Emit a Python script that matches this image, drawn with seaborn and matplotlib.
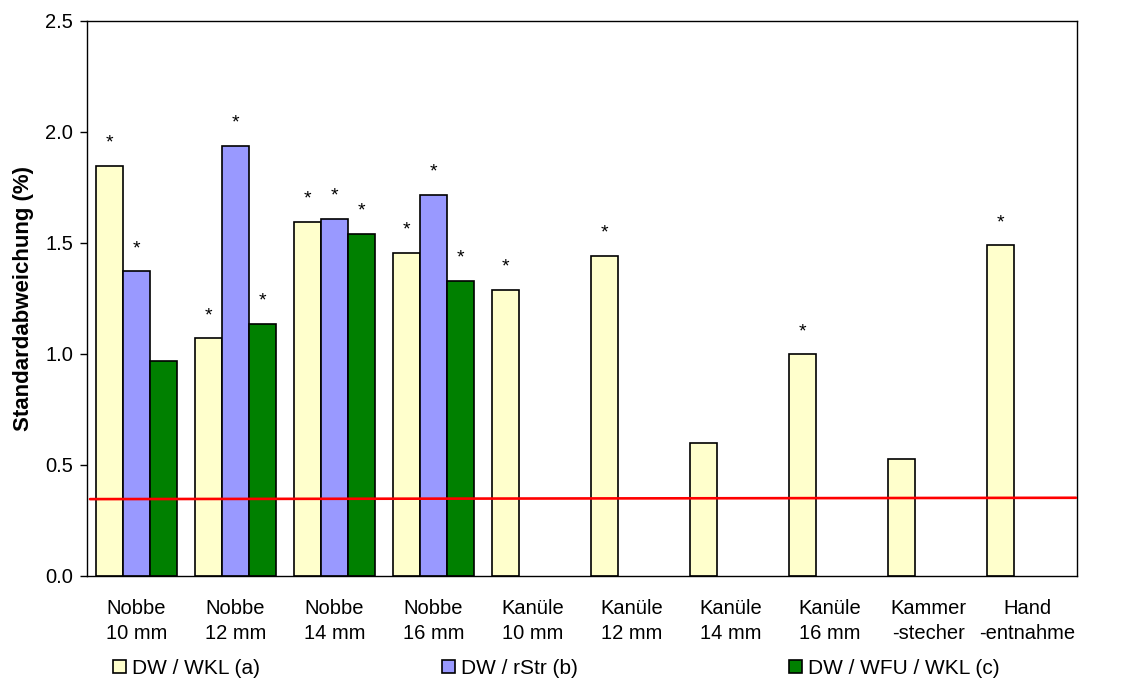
import numpy as np
import pandas as pd
import matplotlib
matplotlib.use("Agg")
import matplotlib.pyplot as plt
import seaborn as sns

# Sampling methods (x categories) and their tick labels
categories = ["Nobbe 10", "Nobbe 12", "Nobbe 14", "Nobbe 16",
              "Kanüle 10", "Kanüle 12", "Kanüle 14", "Kanüle 16",
              "Kammerstecher", "Handentnahme"]
tick_labels = ["Nobbe\n10 mm", "Nobbe\n12 mm", "Nobbe\n14 mm", "Nobbe\n16 mm",
               "Kanüle\n10 mm", "Kanüle\n12 mm", "Kanüle\n14 mm", "Kanüle\n16 mm",
               "Kammer\n-stecher", "Hand\n-entnahme"]

series_names = ["DW / WKL (a)", "DW / rStr (b)", "DW / WFU / WKL (c)"]

# Standard deviation (%) per method; None = not measured
values_a = [1.847, 1.069, 1.595, 1.454, 1.288, 1.441, 0.596, 0.997, 0.524, 1.488]
values_b = [1.372, 1.936, 1.607, 1.716, None, None, None, None, None, None]
values_c = [0.966, 1.134, 1.541, 1.329, None, None, None, None, None, None]

# Significance markers (True = "*")
sig_a = [True, True, True, True, True, True, False, True, False, True]
sig_b = [True, True, True, True, None, None, None, None, None, None]
sig_c = [False, True, True, True, None, None, None, None, None, None]

# Reference line (start / end level)
ref_x = [-0.47, 9.49]
ref_y = [0.345, 0.351]

colors = ["#FFFFCC", "#9999FF", "#008000"]

rows = []
for name, vals in zip(series_names, [values_a, values_b, values_c]):
    for cat, v in zip(categories, vals):
        if v is not None:
            rows.append({"Methode": cat, "Serie": name, "Wert": v})
df = pd.DataFrame(rows)
sig_lookup = dict(zip(series_names, [sig_a, sig_b, sig_c]))

sns.set_theme(style="ticks")
plt.rcParams["font.family"] = ["Liberation Sans", "DejaVu Sans"]
plt.rcParams.update({"text.color": "black", "axes.labelcolor": "black",
                     "xtick.color": "black", "ytick.color": "black"})

fig = plt.figure(figsize=(11.36, 6.8), dpi=100)
ax = fig.add_axes([87 / 1136, 1 - 575.7 / 680, 990 / 1136, 555 / 680])

sns.barplot(data=df, x="Methode", y="Wert", hue="Serie",
            order=categories, hue_order=series_names,
            palette=colors, width=0.82, errorbar=None,
            edgecolor="black", linewidth=1.2, saturation=1, ax=ax)

# Asterisks above significant bars
for cont, name in zip(ax.containers, series_names):
    sig = sig_lookup[name]
    for patch in cont.patches:
        h = patch.get_height()
        if not np.isfinite(h) or h == 0:
            continue
        xc = patch.get_x() + patch.get_width() / 2
        idx = int(round(xc))
        if sig[idx]:
            ax.annotate("*", xy=(xc, h), xytext=(0, 13),
                        textcoords="offset points", ha="center",
                        va="baseline", fontsize=14, color="black")

ax.plot(ref_x, ref_y, color="#FF0000", linewidth=1.9, zorder=5)

ax.set_xlim(-0.5, len(categories) - 0.5)
ax.set_ylim(0, 2.5)
ax.set_yticks(np.arange(0, 2.51, 0.5))
ax.set_yticklabels([f"{t:.1f}" for t in np.arange(0, 2.51, 0.5)], fontsize=14.5)
ax.set_xticks(range(len(categories)))
ax.set_xticklabels(tick_labels, fontsize=14.5, linespacing=1.35)
ax.tick_params(axis="x", length=0, pad=17, labelcolor="black")
ax.tick_params(axis="y", length=5, width=1, pad=5, color="black", labelcolor="black")
for sp in ax.spines.values():
    sp.set_visible(True)
    sp.set_color("black")
    sp.set_linewidth(1.0)

ax.set_xlabel("")
ax.set_ylabel("Standardabweichung (%)", fontsize=16, fontweight="bold", color="black")
ax.yaxis.set_label_coords(-0.054, 0.5)

handles, labels = ax.get_legend_handles_labels()
ax.get_legend().remove()
legend_x = [113, 442, 789]
for hnd, lab, lx in zip(handles, labels, legend_x):
    leg = fig.legend([hnd], [lab], loc="center left",
                     bbox_to_anchor=(lx / 1136, 1 - 668 / 680),
                     bbox_transform=fig.transFigure, frameon=False,
                     fontsize=15, handlelength=0.6, handleheight=0.6,
                     handletextpad=0.3, borderpad=0, borderaxespad=0)
    for t in leg.get_texts():
        t.set_color("black")

fig.savefig("out.png", dpi=100)
